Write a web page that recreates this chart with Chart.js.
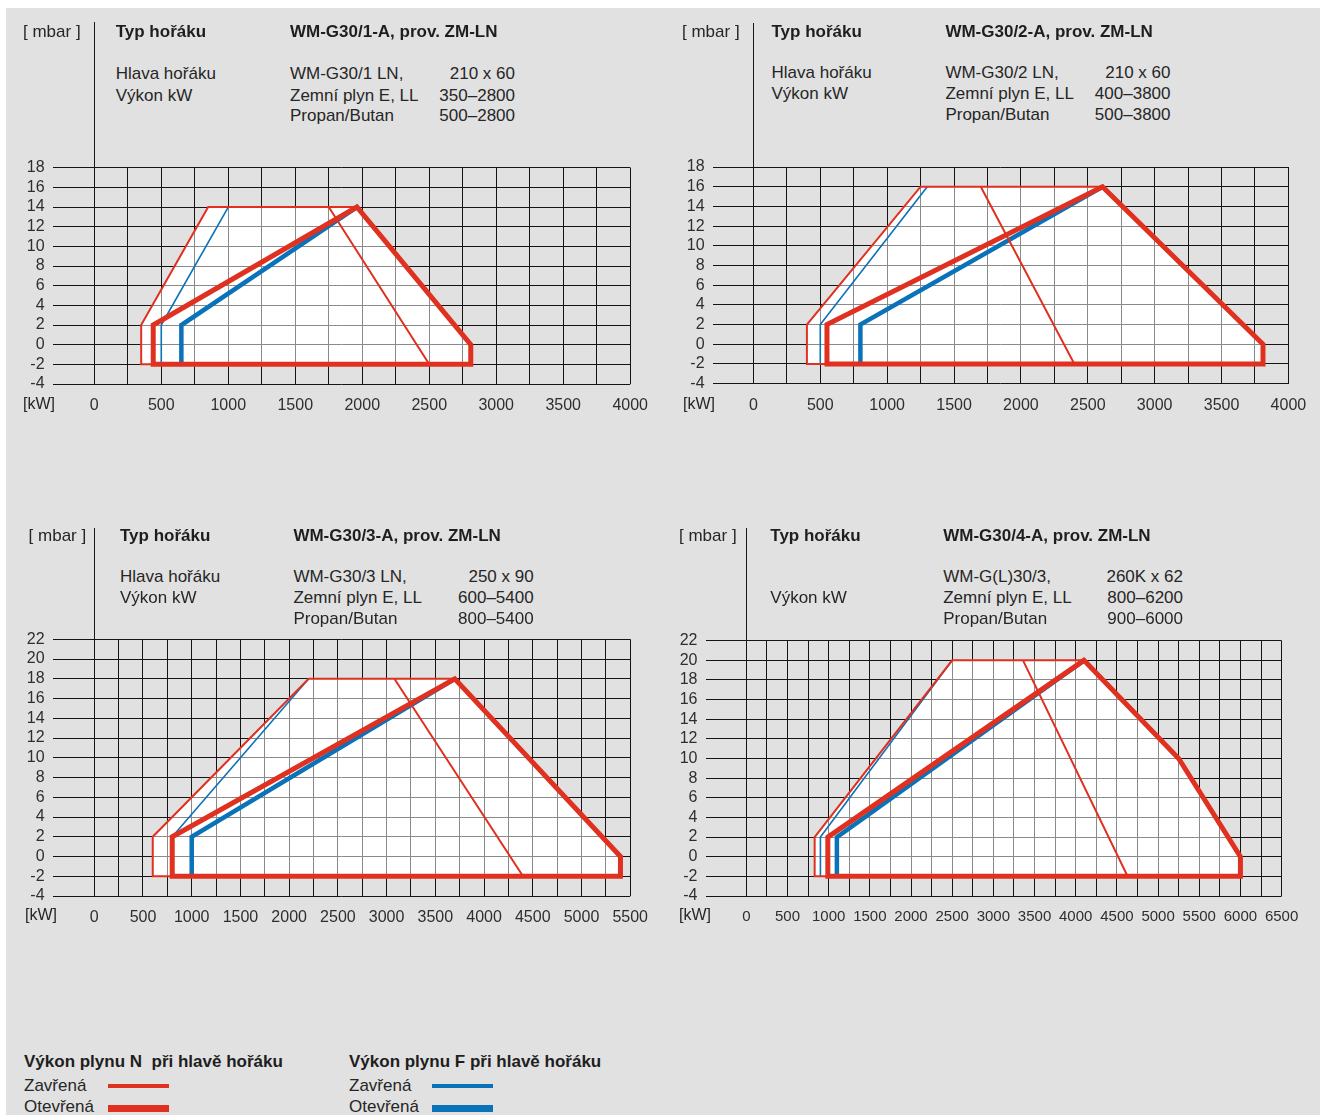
<!DOCTYPE html>
<html lang="cs">
<head>
  <meta charset="UTF-8" />
  <title>WM-G30 pracovní pole hořáků</title>
  <script src="https://cdn.jsdelivr.net/npm/chart.js"></script>
  <style>
    body {
      margin: 0;
      background: #fff;
      font-family: 'Liberation Sans', Arial, sans-serif;
      color: #262626;
    }

    #page {
      position: relative;
      width: 1322px;
      height: 1115px;
      overflow: hidden;
    }

    #sheet {
      position: absolute;
      left: 6px;
      top: 8px;
      width: 1314px;
      height: 1107px;
      background: #e1e1e1;
    }

    canvas {
      position: absolute;
    }

    .t {
      position: absolute;
      font-size: 17px;
      line-height: 22px;
      white-space: pre;
    }

    .b {
      font-weight: bold;
      color: #1e1e1e;
    }

    .vline {
      position: absolute;
      width: 1px;
      background: #1a1a1a;
    }

    .sw {
      position: absolute;
      width: 61px;
    }
  </style>
</head>

<body>
  <div id="page">
    <div id="sheet"></div>
  </div>

  <script>
    // --- data: power [kW] vs. pressure at burner head [mbar] ---

    // WM-G30/1
    const c1ClosedN_kW = [1960, 850, 350, 350, 2500, 1750];
    const c1ClosedN_mbar = [14, 14, 2, -2, -2, 14];
    const c1OpenN_kW = [440, 440, 1960, 2810, 2810, 440];
    const c1OpenN_mbar = [-2, 2, 14, 0, -2, -2];
    const c1ClosedF_kW = [500, 500, 1000];
    const c1ClosedF_mbar = [-2, 2, 14];
    const c1OpenF_kW = [650, 650, 1960];
    const c1OpenF_mbar = [-2, 2, 14];
    const c1Area_kW = [350, 350, 850, 1960, 2810, 2810, 350];
    const c1Area_mbar = [-2, 2, 14, 14, 0, -2, -2];

    // WM-G30/2
    const c2ClosedN_kW = [2610, 1250, 400, 400, 2400, 1700];
    const c2ClosedN_mbar = [16, 16, 2, -2, -2, 16];
    const c2OpenN_kW = [550, 550, 2610, 3810, 3810, 550];
    const c2OpenN_mbar = [-2, 2, 16, 0, -2, -2];
    const c2ClosedF_kW = [500, 500, 1300];
    const c2ClosedF_mbar = [-2, 2, 16];
    const c2OpenF_kW = [800, 800, 2610];
    const c2OpenF_mbar = [-2, 2, 16];
    const c2Area_kW = [400, 400, 1250, 2610, 3810, 3810, 400];
    const c2Area_mbar = [-2, 2, 16, 16, 0, -2, -2];

    // WM-G30/3
    const c3ClosedN_kW = [3700, 2200, 600, 600, 4400, 3080];
    const c3ClosedN_mbar = [18, 18, 2, -2, -2, 18];
    const c3OpenN_kW = [800, 800, 3700, 5400, 5400, 800];
    const c3OpenN_mbar = [-2, 2, 18, 0, -2, -2];
    const c3ClosedF_kW = [800, 800, 2200];
    const c3ClosedF_mbar = [-2, 2, 18];
    const c3OpenF_kW = [1000, 1000, 3700];
    const c3OpenF_mbar = [-2, 2, 18];
    const c3Area_kW = [600, 600, 2200, 3700, 5400, 5400, 600];
    const c3Area_mbar = [-2, 2, 18, 18, 0, -2, -2];

    // WM-G30/4
    const c4ClosedN_kW = [4100, 2500, 830, 830, 4630, 3360];
    const c4ClosedN_mbar = [20, 20, 2, -2, -2, 20];
    const c4OpenN_kW = [990, 990, 4100, 5250, 6000, 6000, 990];
    const c4OpenN_mbar = [-2, 2, 20, 10, 0, -2, -2];
    const c4ClosedF_kW = [900, 900, 2500];
    const c4ClosedF_mbar = [-2, 2, 20];
    const c4OpenF_kW = [1100, 1100, 4100];
    const c4OpenF_mbar = [-2, 2, 20];
    const c4Area_kW = [830, 830, 2500, 4100, 5250, 6000, 6000, 830];
    const c4Area_mbar = [-2, 2, 20, 20, 10, 0, -2, -2];

    // axis ranges and tick steps
    const xMaxes = [4000, 4000, 5500, 6500];
    const yMins = [-4, -4, -4, -4];
    const yMaxes = [18, 18, 22, 22];
    const xGridStep = 250;
    const xLabelStep = 500;
    const yStep = 2;

    // header texts
    const titles = ['WM-G30/1-A, prov. ZM-LN', 'WM-G30/2-A, prov. ZM-LN', 'WM-G30/3-A, prov. ZM-LN', 'WM-G30/4-A, prov. ZM-LN'];
    const headNames = ['WM-G30/1 LN,', 'WM-G30/2 LN,', 'WM-G30/3 LN,', 'WM-G(L)30/3,'];
    const headSizes = ['210 x 60', '210 x 60', '250 x 90', '260K x 62'];
    const rangesN = ['350–2800', '400–3800', '600–5400', '800–6200'];
    const rangesF = ['500–2800', '500–3800', '800–5400', '900–6000'];

    const RED = '#e0301f';
    const BLUE = '#0a72b8';

    // page layout of each diagram (pixels)
    const layout = [
      { canvas: [0, 140, 660, 290], left: 52.6, zero: 94.3, right: 630.5, top: 167.7, bottom: 384, tick: 16,
        mbar: [23, 32], kw: [23, 404], cols: [115.7, 290, 515], rows: [32, 74, 95.5, 116], axisTop: 22 },
      { canvas: [660, 140, 662, 290], left: 712.6, zero: 753.4, right: 1288.4, top: 167, bottom: 383.7, tick: 16,
        mbar: [682, 32], kw: [683, 404], cols: [771.5, 945.4, 1170.5], rows: [32.3, 72.7, 94.3, 115], axisTop: 23 },
      { canvas: [0, 610, 660, 330], left: 52.6, zero: 94.3, right: 630.5, top: 639.3, bottom: 896, tick: 16,
        mbar: [28.6, 536], kw: [25, 915], cols: [120, 293.4, 533.7], rows: [536, 576.7, 598, 618.7], axisTop: 528 },
      { canvas: [660, 610, 662, 330], left: 705.5, zero: 746.3, right: 1281.6, top: 640.7, bottom: 896, tick: 15,
        mbar: [679, 536], kw: [679, 915], cols: [770.3, 943.2, 1183], rows: [536, 576.7, 598, 618.7], axisTop: 528 }
    ];

    const series = [
      [c1Area_kW, c1Area_mbar, c1ClosedF_kW, c1ClosedF_mbar, c1OpenF_kW, c1OpenF_mbar, c1ClosedN_kW, c1ClosedN_mbar, c1OpenN_kW, c1OpenN_mbar],
      [c2Area_kW, c2Area_mbar, c2ClosedF_kW, c2ClosedF_mbar, c2OpenF_kW, c2OpenF_mbar, c2ClosedN_kW, c2ClosedN_mbar, c2OpenN_kW, c2OpenN_mbar],
      [c3Area_kW, c3Area_mbar, c3ClosedF_kW, c3ClosedF_mbar, c3OpenF_kW, c3OpenF_mbar, c3ClosedN_kW, c3ClosedN_mbar, c3OpenN_kW, c3OpenN_mbar],
      [c4Area_kW, c4Area_mbar, c4ClosedF_kW, c4ClosedF_mbar, c4OpenF_kW, c4OpenF_mbar, c4ClosedN_kW, c4ClosedN_mbar, c4OpenN_kW, c4OpenN_mbar]
    ];

    const page = document.getElementById('page');
    const FONT = "'Liberation Sans', Arial, sans-serif";
    Chart.defaults.font.family = FONT;

    function pts(kw, mbar) {
      return kw.map((x, i) => ({ x: x, y: mbar[i] }));
    }

    function put(txt, x, y, bold, right, size) {
      const d = document.createElement('div');
      d.className = 't' + (bold ? ' b' : '');
      d.textContent = txt;
      d.style.left = x + 'px';
      d.style.top = (y - 11) + 'px';
      if (size) d.style.fontSize = size + 'px';
      if (right) d.style.transform = 'translateX(-100%)';
      page.appendChild(d);
    }

    // white area: a half-transparent veil greys the grid, then an opaque layer is slid underneath
    const underlay = {
      id: 'underlay',
      afterDatasetDraw(chart, args) {
        const role = chart.data.datasets[args.index].role;
        if (role === 'veil') chart.ctx.globalCompositeOperation = 'destination-over';
        if (role === 'area') chart.ctx.globalCompositeOperation = 'source-over';
      }
    };

    function line(data, color, width, order, cap) {
      return {
        data: data, borderColor: color, borderWidth: width, order: order,
        fill: false, pointRadius: 0, pointHoverRadius: 0,
        borderJoinStyle: 'miter', borderCapStyle: cap || 'butt'
      };
    }

    function drawPanel(i) {
      const p = layout[i];
      const s = series[i];
      const [cl, ct, W, H] = p.canvas;
      const xMax = xMaxes[i];
      // grid lines reach a bit left of 0 kW
      const xMin = -xMax * (p.zero - p.left) / (p.right - p.zero);

      const cv = document.createElement('canvas');
      cv.width = W;
      cv.height = H;
      cv.style.left = cl + 'px';
      cv.style.top = ct + 'px';
      page.appendChild(cv);

      const area = pts(s[0], s[1]);
      const chart = new Chart(cv, {
        type: 'line',
        data: {
          datasets: [
            { role: 'veil', data: area, fill: 'shape', backgroundColor: 'rgba(255,255,255,0.5)', borderWidth: 0, pointRadius: 0, order: 11 },
            { role: 'area', data: area, fill: 'shape', backgroundColor: '#ffffff', borderWidth: 0, pointRadius: 0, order: 10 },
            line(pts(s[2], s[3]), BLUE, 1.6, 4),
            line(pts(s[4], s[5]), BLUE, 4.5, 3),
            line(pts(s[6], s[7]), RED, 2, 2),
            line(pts(s[8], s[9]), RED, 5, 1, 'square')
          ]
        },
        options: {
          responsive: false,
          animation: false,
          events: [],
          layout: {
            padding: { left: 0, right: cl + W - p.right, top: p.top - ct, bottom: ct + H - p.bottom - 40 }
          },
          plugins: {
            legend: { display: false },
            tooltip: { enabled: false },
            filler: { drawTime: 'beforeDatasetDraw' }
          },
          scales: {
            x: {
              type: 'linear',
              min: xMin,
              max: xMax,
              afterBuildTicks: sc => {
                const t = [];
                for (let v = 0; v <= xMax; v += xGridStep) t.push({ value: v });
                sc.ticks = t;
              },
              afterFit: sc => { sc.height = 40; },
              ticks: {
                autoSkip: false, maxRotation: 0, minRotation: 0, padding: 12,
                color: '#2e2e2e', font: { size: p.tick },
                callback: v => (v % xLabelStep === 0 ? String(v) : '')
              },
              grid: { color: '#141414', lineWidth: 1, drawTicks: false },
              border: { display: false }
            },
            y: {
              min: yMins[i],
              max: yMaxes[i],
              afterFit: sc => { sc.width = p.left - cl; },
              ticks: {
                stepSize: yStep, autoSkip: false, padding: 8, color: '#2e2e2e', font: { size: 16 },
                callback: v => String(v)
              },
              grid: { color: '#141414', lineWidth: 1, drawTicks: false },
              border: { display: false }
            }
          }
        },
        plugins: [underlay]
      });

      // y axis line running up into the header
      const px = chart.scales.x.getPixelForValue(0);
      const v = document.createElement('div');
      v.className = 'vline';
      v.style.left = (cl + Math.round(px - 0.5)) + 'px';
      v.style.top = p.axisTop + 'px';
      v.style.height = (chart.chartArea.top + ct - p.axisTop) + 'px';
      page.appendChild(v);

      // header
      const [c0, c1, c2] = p.cols;
      const [r0, r1, r2, r3] = p.rows;
      put('[ mbar ]', p.mbar[0], p.mbar[1]);
      put('Typ hořáku', c0, r0, true);
      put(titles[i], c1, r0, true);
      if (i !== 3) put('Hlava hořáku', c0, r1);
      put(headNames[i], c1, r1);
      put(headSizes[i], c2, r1, false, true);
      put('Výkon kW', c0, r2);
      put('Zemní plyn E, LL', c1, r2);
      put(rangesN[i], c2, r2, false, true);
      put('Propan/Butan', c1, r3);
      put(rangesF[i], c2, r3, false, true);
      put('[kW]', p.kw[0], p.kw[1], false, false, 16);
    }

    for (let i = 0; i < 4; i++) drawPanel(i);

    // legend
    function swatch(x, y, h, color) {
      const d = document.createElement('div');
      d.className = 'sw';
      d.style.left = x + 'px';
      d.style.top = y + 'px';
      d.style.height = h + 'px';
      d.style.background = color;
      page.appendChild(d);
    }
    put('Výkon plynu N  při hlavě hořáku', 24, 1062, true);
    put('Zavřená', 24, 1085.5);
    put('Otevřená', 24, 1107);
    swatch(108, 1084, 4, RED);
    swatch(108, 1105, 7, RED);
    put('Výkon plynu F při hlavě hořáku', 349, 1062, true);
    put('Zavřená', 349, 1085.5);
    put('Otevřená', 349, 1107);
    swatch(432, 1084, 4, BLUE);
    swatch(432, 1105, 7, BLUE);
  </script>
</body>

</html>
